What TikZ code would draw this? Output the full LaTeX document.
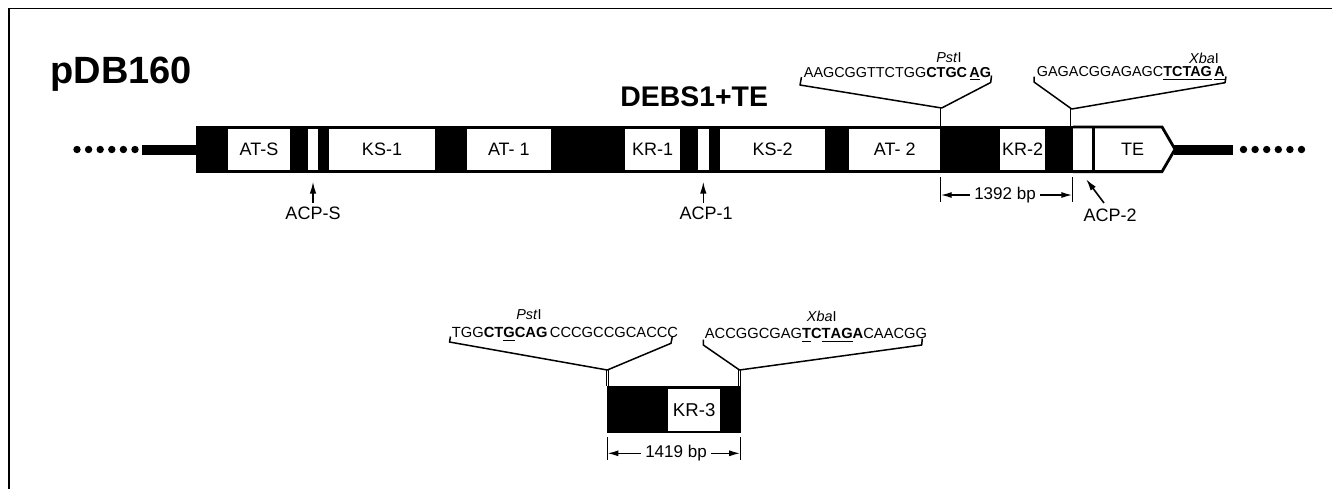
\documentclass[tikz,border=0pt]{standalone}
\usepackage{fontspec}
\setmainfont{Liberation Sans}
\usetikzlibrary{arrows.meta}
\begin{document}
\begin{tikzpicture}[x=0.5pt,y=-0.5pt,
  wbox/.style={fill=white, inner sep=0pt, minimum height=20.75pt, font=\fontsize{9}{10}\selectfont},
  lbl/.style={inner sep=2pt, font=\fontsize{9}{10}\selectfont},
  bplbl/.style={inner sep=2pt, font=\fontsize{8.5}{10}\selectfont},
  seq/.style={inner sep=0pt, anchor=base west, font=\fontsize{7.2}{8}\selectfont},
  seqb/.style={inner sep=0pt, anchor=base west, font=\fontsize{7.35}{8}\selectfont},
  enz/.style={inner sep=0pt, font=\fontsize{7.2}{8}\selectfont},
  ptr/.style={line width=0.8pt, -{Latex[length=6pt,width=3.2pt]}},
  dimarrow/.style={line width=0.7pt, -{Latex[length=5.5pt,width=3pt]}},
  tickline/.style={line width=0.7pt},
  brk/.style={line width=0.75pt, line join=round},
  site/.style={draw=black, line width=0.45pt, double=white, double distance=0.8pt},
  tail/.style={line width=5pt},
]
\useasboundingbox (0,0) rectangle (1332,489);
% frame
\draw[line width=0.7pt] (9,489) -- (9,8.3) -- (1332,8.3);

% titles
\node[anchor=base west, inner sep=0pt, font=\fontsize{19}{22}\selectfont\bfseries] (title) at (50,83.3) {pDB160};
\node[anchor=base west, inner sep=0pt, font=\fontsize{14.2}{16}\selectfont\bfseries] (debs) at (620,106) {DEBS1+TE};

% main bar
\fill (196,125.5) rectangle (1073,173);
\draw[line width=1.4pt, fill=white, line join=miter] (1073,126.9) -- (1162,126.9) -- (1175,149.25) -- (1162,171.6) -- (1073,171.6);
\draw[line width=1.3pt] (1093.6,126) -- (1093.6,172.5);

\node[wbox, minimum width=31pt] (ats) at (259,149.25) {AT-S};
\node[wbox, minimum width=5.3pt] (acpsb) at (313,149.25) {};
\node[wbox, minimum width=53pt] (ks1) at (382,149.25) {KS-1};
\node[wbox, minimum width=42.15pt] (at1) at (508.85,149.25) {AT- 1};
\node[wbox, minimum width=27.5pt] (kr1) at (652.5,149.25) {KR-1};
\node[wbox, minimum width=5.8pt] (acp1b) at (703.5,149.25) {};
\node[wbox, minimum width=52.5pt] (ks2) at (772.5,149.25) {KS-2};
\node[wbox, minimum width=45.3pt] (at2) at (894.7,149.25) {AT- 2};
\node[wbox, minimum width=22.5pt] (kr2) at (1022.5,149.25) {KR-2};
\node[lbl, inner sep=0pt] (te) at (1132.5,149.25) {TE};

% tails and dots
\draw[tail] (142,149.5) -- (196,149.5);
\draw[tail] (1174,149.5) -- (1233,149.5);
\foreach \i in {0,...,5} {
  \fill (77+11.6*\i,149.5) circle (3.7);
  \fill (1243.5+11.6*\i,149.5) circle (3.7);
}

% ACP pointers
\node[lbl] (acpsL) at (313,213.3) {ACP-S};
\coordinate (acpsT) at (313,181.5);
\draw[ptr] (acpsL.north) -- (acpsT);
\node[lbl] (acp1L) at (706,213.3) {ACP-1};
\coordinate (acp1T) at (703.3,181.5);
\draw[ptr] (acp1L.north -| acp1T) -- (acp1T);
\node[lbl] (acp2L) at (1110,215) {ACP-2};
\coordinate (acp2T) at (1086,179);
\coordinate (acp2S) at (1104,203);
\draw[ptr] (acp2S) -- (acp2T);

% 1392 bp
\coordinate (d1l) at (940.7,195);
\coordinate (d1r) at (1072.3,195);
\draw[tickline] (940.7,177) -- (940.7,202);
\draw[tickline] (1072.3,177) -- (1072.3,202);
\node[bplbl] (bp1) at (1005,195) {1392 bp};
\draw[dimarrow] (bp1.west) -- (d1l);
\draw[dimarrow] (bp1.east) -- (d1r);

% upper PstI site
\coordinate (pstA) at (941.7,125.5);
\coordinate (pstV) at (941.7,108);
\draw[site] (pstA) -- (pstV);
\node[seq] (pstseq) at (803.5,77) {AAGCGGTTCTGG\textbf{CTGC\,\underline{A}G}};
\node[enz] (pstlbl) at (949,58) {\textit{Pst}I};
\draw[brk] (801.5,77) -- (800,85) -- (pstV) -- (990.7,82.5) -- (991.5,75.5);

% upper XbaI site
\coordinate (xbaA) at (1071.7,125.5);
\coordinate (xbaV) at (1071.7,109);
\draw[site] (xbaA) -- (xbaV);
\node[seq] (xbaseq) at (1036.5,76.5) {GAGACGGAGAGC\textbf{\underline{TCTAG}\,\underline{A}}};
\node[enz] (xbalbl) at (1204,58) {\textit{Xba}I};
\draw[brk] (1034,76.5) -- (1034,82) -- (xbaV) -- (1225,82.7) -- (1226,76.5);

% lower KR-3 cassette
\fill (607.3,385.7) rectangle (740.7,433.3);
\node[wbox, minimum width=25.85pt, minimum height=20.85pt, font=\fontsize{9.3}{10}\selectfont] (kr3) at (694.15,409.85) {KR-3};

\coordinate (d2l) at (607.3,453.3);
\coordinate (d2r) at (740.2,453.3);
\draw[tickline] (607.3,437) -- (607.3,460);
\draw[tickline] (740.2,437) -- (740.2,460);
\node[bplbl] (bp2) at (676,453.3) {1419 bp};
\draw[dimarrow] (bp2.west) -- (d2l);
\draw[dimarrow] (bp2.east) -- (d2r);

% lower PstI site
\coordinate (pst2A) at (607.3,385.7);
\coordinate (pst2V) at (607.3,370);
\draw[site] (pst2A) -- (pst2V);
\node[seqb] (pst2seq) at (451.5,337) {TGG\textbf{CT\underline{G}CAG}\,CCCGCCGCACCC};
\node[enz] (pst2lbl) at (529,315) {\textit{Pst}I};
\draw[brk] (450.5,336.5) -- (449.5,342) -- (pst2V) -- (671,343.3) -- (672.3,336.5);

% lower XbaI site
\coordinate (xba2A) at (739.5,385.7);
\coordinate (xba2V) at (739.5,370);
\draw[site] (xba2A) -- (xba2V);
\node[seqb] (xba2seq) at (704.5,338.3) {ACCGGCGAG\textbf{\underline{T}C\underline{T}\underline{AG}A}CAACGG};
\node[enz] (xba2lbl) at (821.7,316.7) {\textit{Xba}I};
\draw[brk] (703.3,339.5) -- (703.3,345) -- (xba2V) -- (921.7,345) -- (922.3,338.5);
\end{tikzpicture}
\end{document}
